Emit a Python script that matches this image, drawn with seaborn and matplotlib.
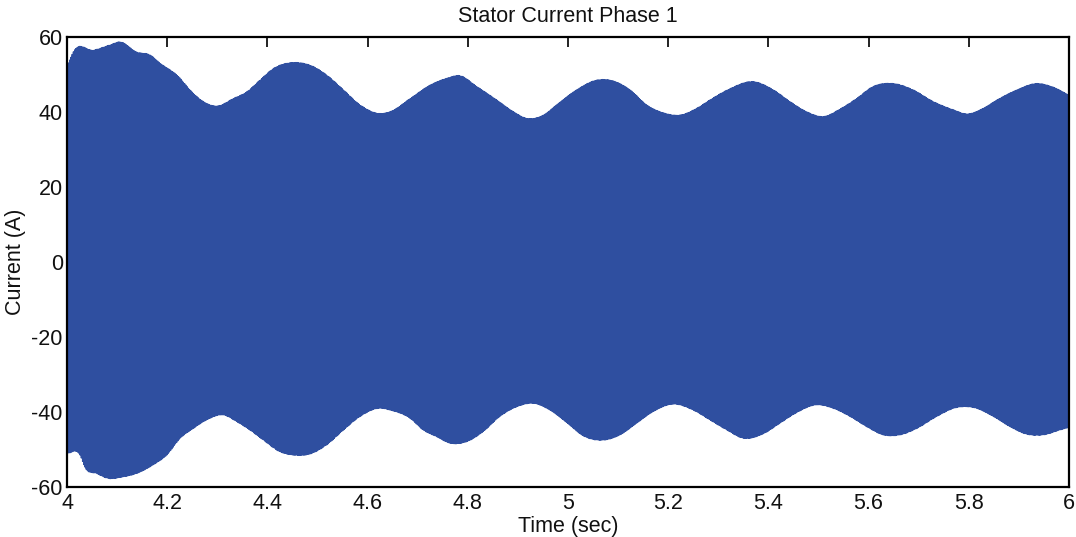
import numpy as np
import pandas as pd
import matplotlib
matplotlib.use("Agg")
import matplotlib.pyplot as plt
import seaborn as sns

# Upper and lower envelope of the phase-1 stator current (time in s, current in A)
upper_t = [4.000, 4.013, 4.053, 4.086, 4.106, 4.139, 4.166, 4.186, 4.219, 4.252,
           4.272, 4.299, 4.332, 4.359, 4.385, 4.412, 4.452, 4.492, 4.518, 4.552,
           4.585, 4.625, 4.645, 4.685, 4.725, 4.758, 4.784, 4.818, 4.858, 4.891,
           4.918, 4.951, 4.977, 5.017, 5.057, 5.090, 5.124, 5.157, 5.190, 5.224,
           5.257, 5.283, 5.320, 5.370, 5.410, 5.443, 5.476, 5.510, 5.543,
           5.576, 5.609, 5.649, 5.689, 5.729, 5.769, 5.796, 5.829, 5.856, 5.896,
           5.935, 5.969, 6.000]
upper_v = [52.1, 56.1, 56.5, 57.9, 58.7, 56.0, 55.2, 53.0, 49.9, 45.0,
           42.8, 41.6, 43.6, 45.4, 48.5, 51.6, 53.2, 52.1, 49.9, 45.9,
           41.9, 39.6, 40.1, 43.6, 47.2, 49.0, 49.7, 46.8, 43.2, 40.1,
           38.3, 39.2, 41.9, 45.9, 48.5, 48.3, 45.9, 41.9, 39.8, 39.2,
           41.0, 43.2, 46.0, 48.1, 45.9, 42.8, 40.1, 38.8, 40.8,
           43.6, 46.8, 47.6, 45.9, 42.8, 40.6, 39.5, 41.0, 43.2, 45.9,
           47.6, 46.6, 44.5]

lower_t = [4.000, 4.026, 4.036, 4.059, 4.082, 4.112, 4.139, 4.172, 4.199, 4.226,
           4.252, 4.279, 4.312, 4.339, 4.365, 4.392, 4.425, 4.452, 4.485, 4.518,
           4.552, 4.585, 4.625, 4.645, 4.685, 4.711, 4.738, 4.764, 4.798, 4.831,
           4.864, 4.898, 4.931, 4.964, 4.997, 5.031, 5.071, 5.104, 5.137, 5.170,
           5.210, 5.250, 5.283, 5.317, 5.350, 5.390, 5.423, 5.456, 5.496, 5.529,
           5.563, 5.596, 5.629, 5.663, 5.696, 5.736, 5.776, 5.809, 5.849, 5.882,
           5.915, 5.949, 5.982, 6.000]
lower_v = [-51.0, -51.5, -54.8, -56.4, -57.7, -57.3, -56.4, -54.1, -51.5, -47.0,
           -44.4, -42.1, -40.8, -42.6, -44.8, -47.5, -50.6, -51.5, -51.2, -48.8,
           -44.8, -41.2, -39.0, -39.5, -41.7, -44.8, -46.6, -48.3, -47.9, -45.2,
           -41.2, -38.6, -37.7, -39.5, -42.8, -46.4, -47.5, -46.1, -43.0, -39.9,
           -37.9, -39.5, -42.1, -44.8, -47.0, -45.8, -43.0, -40.2, -38.1, -39.0,
           -41.2, -43.9, -46.1, -46.1, -44.4, -41.2, -38.8, -38.8, -41.2, -43.9,
           -45.9, -46.1, -44.8, -44.1]

x_ticks = [4, 4.2, 4.4, 4.6, 4.8, 5, 5.2, 5.4, 5.6, 5.8, 6]
x_tick_labels = ["4", "4.2", "4.4", "4.6", "4.8", "5", "5.2", "5.4", "5.6", "5.8", "6"]
y_ticks = [-60, -40, -20, 0, 20, 40, 60]

SAMPLE_RATE = 20000   # Hz
CARRIER_HZ = 410.0    # switching ripple frequency


def smooth_envelope(t, knots_t, knots_v):
    """Cubic Hermite curve through the envelope knots."""
    kt = np.asarray(knots_t, float)
    kv = np.asarray(knots_v, float)
    slopes = np.gradient(kv, kt)
    idx = np.clip(np.searchsorted(kt, t, side="right") - 1, 0, len(kt) - 2)
    h = kt[idx + 1] - kt[idx]
    s = (t - kt[idx]) / h
    h00 = 2 * s**3 - 3 * s**2 + 1
    h10 = s**3 - 2 * s**2 + s
    h01 = -2 * s**3 + 3 * s**2
    h11 = s**3 - s**2
    return (h00 * kv[idx] + h10 * h * slopes[idx]
            + h01 * kv[idx + 1] + h11 * h * slopes[idx + 1])


sns.set_theme(style="white")
plt.rcParams["font.family"] = ["Liberation Sans", "DejaVu Sans"]
plt.rcParams["axes.unicode_minus"] = False

t = np.arange(4.0, 6.0 + 1.0 / SAMPLE_RATE, 1.0 / SAMPLE_RATE)
env_hi = smooth_envelope(t, upper_t, upper_v)
env_lo = smooth_envelope(t, lower_t, lower_v)
current = (env_hi + env_lo) / 2 + (env_hi - env_lo) / 2 * np.sin(2 * np.pi * CARRIER_HZ * t)
df = pd.DataFrame({"time": t, "current": current})

fig = plt.figure(figsize=(10.76, 5.37), dpi=100)
ax = fig.add_axes([67 / 1076, 1 - 487 / 537, (1069 - 67) / 1076, (487 - 37) / 537])

sns.lineplot(data=df, x="time", y="current", ax=ax, color="#2f4fa0",
             linewidth=0.9, estimator=None, sort=False, errorbar=None)

ax.set_xlim(4, 6)
ax.set_ylim(-60, 60)
ax.set_xticks(x_ticks)
ax.set_xticklabels(x_tick_labels)
ax.set_yticks(y_ticks)

fs = 15.5
ax.set_title("Stator Current Phase 1", fontsize=fs, pad=11, color="#111111")
ax.set_xlabel("Time (sec)", fontsize=fs, labelpad=2, color="#111111")
ax.set_ylabel("Current (A)", fontsize=fs, labelpad=4, color="#111111")
ax.tick_params(axis="both", which="both", direction="in", length=7, width=1.3,
               labelsize=fs, colors="#111111", top=True, right=True, pad=3)
ax.tick_params(axis="x", pad=4)

for side in ["top", "bottom", "left", "right"]:
    ax.spines[side].set_visible(True)
    ax.spines[side].set_color("black")
    ax.spines[side].set_linewidth(1.6)

ax.grid(False)
fig.savefig("out.png", dpi=100, facecolor="white")
